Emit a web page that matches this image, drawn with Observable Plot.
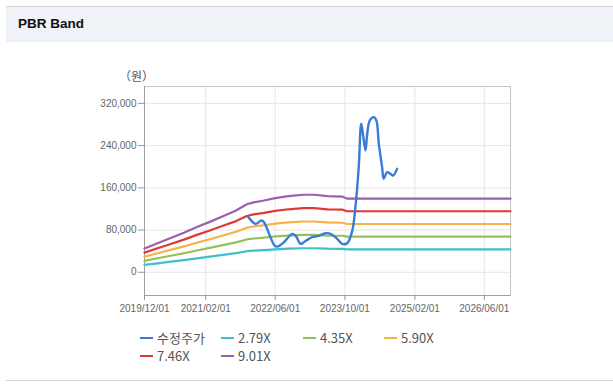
<!DOCTYPE html>
<html>
<head>
<meta charset="utf-8">
<script src="https://cdn.jsdelivr.net/npm/d3@7"></script>
<script src="https://cdn.jsdelivr.net/npm/@observablehq/plot@0.6"></script>
<style>
  html, body { margin: 0; padding: 0; background: #fff; width: 613px; height: 385px; overflow: hidden; }
  body { position: relative; font-family: "Liberation Sans", Arial, sans-serif; }
  #topline { position: absolute; left: 6px; top: 6px; width: 607px; height: 1px; background: #d4d4d4; }
  #header { position: absolute; left: 6px; top: 7px; width: 607px; height: 35px; background: #eff2f7; }
  #title { position: absolute; left: 18px; top: 16px; font: bold 13.5px "Liberation Sans", Arial, sans-serif; color: #111; }
  #bottomline { position: absolute; left: 6px; top: 380px; width: 607px; height: 1px; background: #d4d4d4; }
  #chart { position: absolute; left: 0; top: 50px; }
  .lg { position: absolute; font: 13px "Noto Sans CJK KR", "Liberation Sans", sans-serif; color: #555; line-height: 16px; white-space: nowrap; }
  .lg span.sw { display: inline-block; width: 13px; height: 2px; vertical-align: middle; margin-right: 4px; position: relative; top: -1px; }
</style>
</head>
<body>
<div id="topline"></div>
<div id="header"></div>
<div id="title">PBR Band</div>
<div id="chart"></div>
<div id="legend"></div>
<div id="bottomline"></div>
<script>
// ---- data ----
const bandDates = ["2019-12-01","2020-03-01","2020-06-01","2020-09-01","2020-12-01","2021-03-01","2021-06-01","2021-09-01","2021-11-15","2022-01-01","2022-03-15","2022-06-01","2022-09-01","2022-12-15","2023-03-01","2023-06-01","2023-09-15","2023-10-15","2026-12-01"];
const band279 = [13950,17020,20090,23160,26510,29570,32920,36270,39900,41010,42130,43520,44640,45480,45480,44640,44360,43250,43250];
const band435 = [21750,26535,31320,36105,41325,46110,51330,56550,62205,63945,65685,67860,69600,70905,70905,69600,69165,67425,67425];
const band590 = [29500,35990,42480,48970,56050,62540,69620,76700,84370,86730,89090,92040,94400,96170,96170,94400,93810,91450,91450];
const band746 = [37300,45510,53710,61920,70870,79080,88030,96980,106680,109660,112650,116380,119360,121600,121600,119360,118610,115630,115630];
const band901 = [45050,54960,64870,74780,85600,95510,106320,117130,128840,132450,136050,140560,144160,146860,146860,144160,143260,139660,139660];

const priceDates = ["2021-11-23","2022-01-15","2022-02-24","2022-03-14","2022-05-28","2022-06-16","2022-08-01","2022-09-28","2022-10-21","2022-11-25","2022-12-18","2023-01-22","2023-02-15","2023-03-31","2023-05-19","2023-06-23","2023-08-08","2023-09-12","2023-10-17","2023-11-21","2023-12-14","2024-01-06","2024-01-23","2024-02-07","2024-02-22","2024-03-05","2024-03-23","2024-04-20","2024-05-08","2024-05-25","2024-06-17","2024-06-28","2024-07-22","2024-08-14","2024-09-02","2024-09-30"];
const priceValues = [105600,91700,98000,95000,50600,48700,56900,72800,69600,53800,56900,63300,66400,69000,74000,72800,63300,53800,55000,78000,125000,200000,281300,256000,230700,262400,287600,293900,287600,243400,199100,177100,189600,186500,183300,196000];

const seriesNames = ["수정주가","2.79X","4.35X","5.90X","7.46X","9.01X"];
const seriesColors = ["#3a7bd6","#3fbfcb","#92c257","#f6b244","#dd3a36","#9d5eae"];
const xTicks = ["2019/12/01","2021/02/01","2022/06/01","2023/10/01","2025/02/01","2026/06/01"];
const yTicks = [0,80000,160000,240000,320000];

// ---- build ----
const parse = d3.utcParse("%Y-%m-%d");
const parseTick = d3.utcParse("%Y/%m/%d");
const bands = [band279, band435, band590, band746, band901];
const bandRows = [];
bands.forEach((arr, i) => arr.forEach((v, j) => bandRows.push({name: seriesNames[i+1], date: parse(bandDates[j]), value: v})));
const priceRows = priceDates.map((d, i) => ({date: parse(d), value: priceValues[i]}));

const plot = Plot.plot({
  width: 613,
  height: 280,
  marginLeft: 144,
  marginRight: 103,
  marginTop: 36,
  marginBottom: 35,
  style: {fontFamily: "'Liberation Sans', Arial, sans-serif", fontSize: "10px", color: "#666", background: "transparent"},
  x: {type: "utc", domain: [parse("2019-12-01"), parse("2026-12-01")], ticks: xTicks.map(parseTick), tickFormat: d3.utcFormat("%Y/%m/%d"), tickSize: 5, tickPadding: 4, label: null},
  y: {domain: [-44000, 352000], ticks: yTicks, tickFormat: d3.format(","), tickSize: 6, tickPadding: 2, label: null},
  color: {domain: seriesNames, range: seriesColors},
  marks: [
    Plot.gridX(xTicks.map(parseTick), {stroke: "#e6e6e6", strokeOpacity: 1}),
    Plot.gridY(yTicks, {stroke: "#e6e6e6", strokeOpacity: 1}),
    Plot.frame({stroke: "#c4c4c4"}),
    Plot.ruleX([parse("2019-12-01")], {stroke: "#a0a0a0"}),
    Plot.ruleY([-44000], {stroke: "#a0a0a0"}),
    Plot.axisX({ticks: xTicks.map(parseTick), tickFormat: d3.utcFormat("%Y/%m/%d"), tickSize: 5, tickPadding: 4, stroke: "#999", fill: "#666", label: null}),
    Plot.axisY({ticks: yTicks, tickFormat: d3.format(","), tickSize: 6, tickPadding: 2, stroke: "#999", fill: "#666", label: null}),
    Plot.line(bandRows, {x: "date", y: "value", z: "name", stroke: "name", strokeWidth: 2.2, curve: "linear"}),
    Plot.line(priceRows, {x: "date", y: "value", stroke: () => seriesNames[0], strokeWidth: 2.4, curve: "catmull-rom"}),
    Plot.text(["（원）"], {frameAnchor: "top-left", dx: -8, dy: -14, text: d => d, fill: "#555", fontSize: 12, textAnchor: "middle", fontFamily: "'Noto Sans CJK KR', sans-serif"})
  ]
});
document.getElementById("chart").appendChild(plot);

// legend
const legend = document.getElementById("legend");
const pos = [[140,330],[221,330],[303,330],[384,330],[140,348],[221,348]];
seriesNames.forEach((n, i) => {
  const d = document.createElement("div");
  d.className = "lg";
  d.style.left = pos[i][0] + "px";
  d.style.top = pos[i][1] + "px";
  d.innerHTML = `<span class="sw" style="background:${seriesColors[i]}"></span>${n}`;
  legend.appendChild(d);
});
</script>
</body>
</html>
